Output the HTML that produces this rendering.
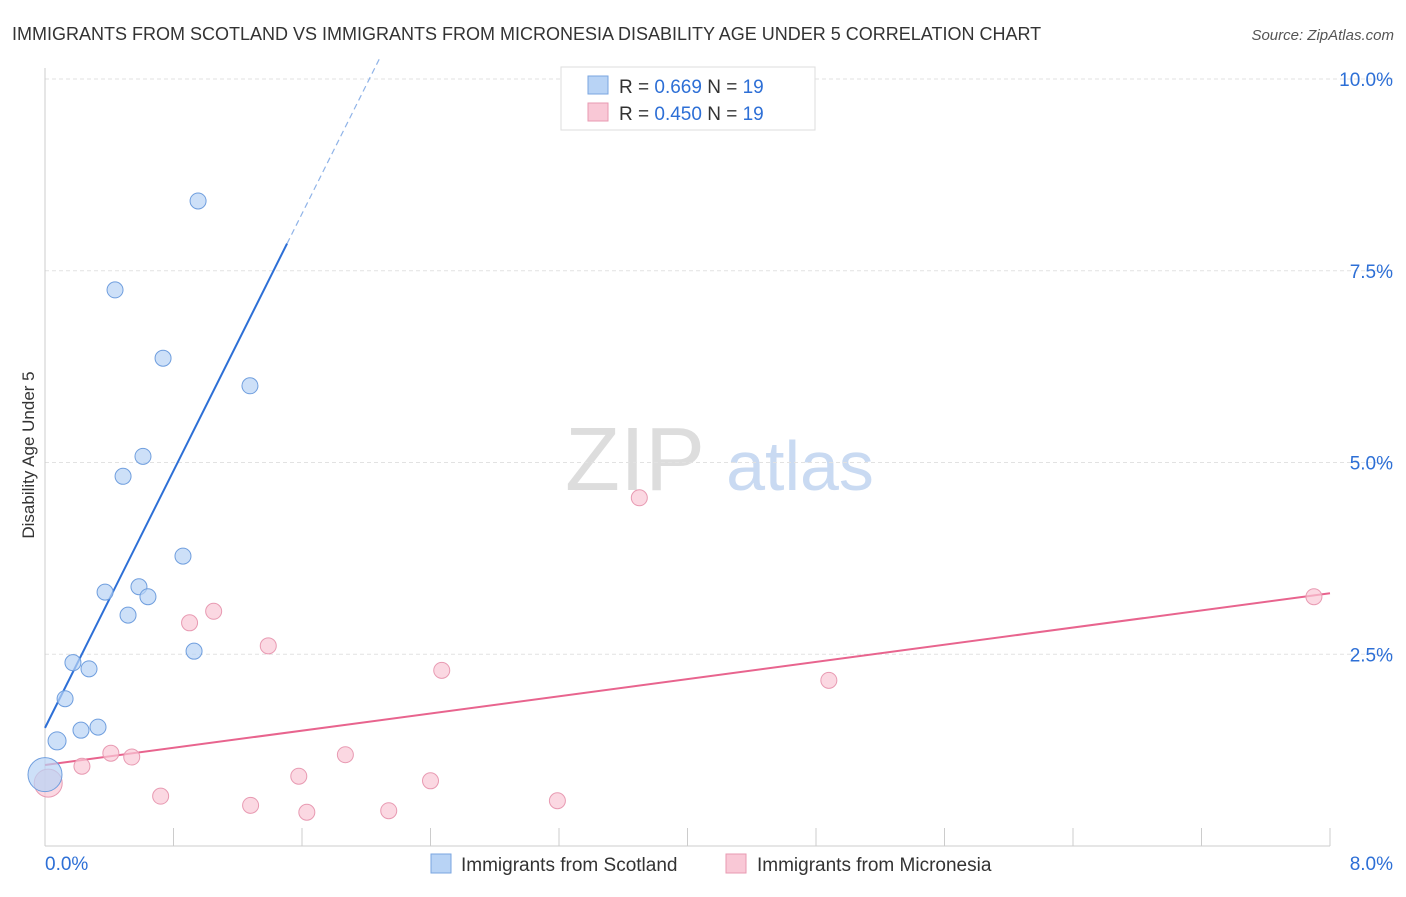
<!DOCTYPE html>
<html><head><meta charset="utf-8"><style>
body{margin:0;background:#fff;font-family:"Liberation Sans",sans-serif;}
svg text{font-family:"Liberation Sans",sans-serif;}
</style></head><body>
<svg id="c" width="1406" height="892" xmlns="http://www.w3.org/2000/svg">
<text x="12" y="40" font-size="18" fill="#333">IMMIGRANTS FROM SCOTLAND VS IMMIGRANTS FROM MICRONESIA DISABILITY AGE UNDER 5 CORRELATION CHART</text>
<text x="1394" y="40" font-size="15" fill="#555" font-style="italic" text-anchor="end">Source: ZipAtlas.com</text>
<text x="34" y="455" font-size="17" fill="#333" text-anchor="middle" transform="rotate(-90 34 455)">Disability Age Under 5</text>
<g>
<text x="635" y="490" font-size="90" fill="#ddd" text-anchor="middle" font-family="Liberation Serif">ZIP</text>
<text x="800" y="490" font-size="70" fill="#c9daf2" text-anchor="middle">atlas</text>
</g>
<g id="grid"></g><g id="axes"></g><g id="lines"></g><g id="pts"></g>
<g>
<rect x="561" y="67" width="254" height="63" fill="#fff" stroke="#ddd"/>
<rect x="588" y="76" width="20" height="18" fill="#b8d3f5" stroke="#7aa6e0"/>
<text x="619" y="93" font-size="19" fill="#333">R = <tspan fill="#2d6fd6">0.669</tspan>   N = <tspan fill="#2d6fd6">19</tspan></text>
<rect x="588" y="103" width="20" height="18" fill="#f9c8d6" stroke="#e89ab2"/>
<text x="619" y="120" font-size="19" fill="#333">R = <tspan fill="#2d6fd6">0.450</tspan>   N = <tspan fill="#2d6fd6">19</tspan></text>
</g>
<g>
<rect x="431" y="854" width="20" height="19" fill="#b8d3f5" stroke="#7aa6e0"/>
<text x="461" y="871" font-size="19" fill="#333">Immigrants from Scotland</text>
<rect x="726" y="854" width="20" height="19" fill="#f9c8d6" stroke="#e89ab2"/>
<text x="757" y="871" font-size="19" fill="#333">Immigrants from Micronesia</text>
</g>
</svg>
<script>
const yTicks=[2.5,5.0,7.5,10.0];
const yTickLabels=["2.5%","5.0%","7.5%","10.0%"];
const xTickCount=10;
const xLabels=["0.0%","8.0%"];
const blueX=[0.075,0.125,0.174,0.224,0.274,0.330,0.374,0.436,0.486,0.517,0.585,0.610,0.641,0.735,0.859,0.928,0.953,1.276,0.0];
const blueY=[1.37,1.92,2.39,1.51,2.31,1.55,3.31,7.25,4.82,3.01,3.38,5.08,3.25,6.36,3.78,2.54,8.41,6.00,0.93];
const blueR=[9,8,8,8,8,8,8,8,8,8,8,8,8,8,8,8,8,8,17];
const pinkX=[0.02,0.23,0.41,0.54,0.72,0.90,1.05,1.28,1.39,1.58,1.63,1.87,2.14,2.40,2.47,3.19,3.70,4.88,7.90];
const pinkY=[0.82,1.04,1.21,1.16,0.65,2.91,3.06,0.53,2.61,0.91,0.44,1.19,0.46,0.85,2.29,0.59,4.54,2.16,3.25];
const pinkR=[14,8,8,8,8,8,8,8,8,8,8,8,8,8,8,8,8,8,8];
const blueTrend=[1.54,4.19]; // intercept, slope
const pinkTrend=[1.056,0.28];
const sx=v=>45+v*160.625, sy=v=>846-v*76.7;
const NS="http://www.w3.org/2000/svg";
function mk(p,t,a){const e=document.createElementNS(NS,t);for(const k in a)e.setAttribute(k,a[k]);document.getElementById(p).appendChild(e);return e;}
yTicks.forEach((v,i)=>{
 const l=mk('grid','line',{x1:45,x2:1394,y1:sy(v),y2:sy(v),stroke:'#e2e2e2','stroke-dasharray':'4 3'});
 
 
 const t=mk('grid','text',{x:1393,y:sy(v)+7,'font-size':19,fill:'#2d6fd6','text-anchor':'end'});t.textContent=yTickLabels[i];
 
 
});
mk('axes','line',{x1:45,x2:45,y1:68,y2:846,stroke:'#ccc'});
mk('axes','line',{x1:45,x2:1330,y1:846,y2:846,stroke:'#ccc'});
for(let i=0;i<=xTickCount;i++){const x=sx(i*0.8);const l=mk('axes','line',{x1:x,x2:x,y1:828,y2:846,stroke:'#ccc'});
 
 }
let t=mk('axes','text',{x:45,y:870,'font-size':19,fill:'#2d6fd6'});t.textContent=xLabels[0];


t=mk('axes','text',{x:1393,y:870,'font-size':19,fill:'#2d6fd6','text-anchor':'end'});t.textContent=xLabels[1];


const bx1=1.507,bxe=(10.3-blueTrend[0])/blueTrend[1];
let l=mk('lines','line',{x1:sx(0),y1:sy(blueTrend[0]),x2:sx(bx1),y2:sy(blueTrend[0]+blueTrend[1]*bx1),stroke:'#2d6fd6','stroke-width':2});


l=mk('lines','line',{x1:sx(bx1),y1:sy(blueTrend[0]+blueTrend[1]*bx1),x2:sx(bxe),y2:sy(10.3),stroke:'#8fb3e8','stroke-width':1.2,'stroke-dasharray':'6 4'});


l=mk('lines','line',{x1:sx(0),y1:sy(pinkTrend[0]),x2:sx(8),y2:sy(pinkTrend[0]+pinkTrend[1]*8),stroke:'#e8648e','stroke-width':2});


pinkX.forEach((v,i)=>{const c=mk('pts','circle',{cx:sx(v),cy:sy(pinkY[i]),r:pinkR[i],fill:'#f9c8d6','fill-opacity':0.7,stroke:'#e89ab2'});
 
 });
blueX.forEach((v,i)=>{const c=mk('pts','circle',{cx:sx(v),cy:sy(blueY[i]),r:blueR[i],fill:'#b8d3f5','fill-opacity':0.7,stroke:'#6f9ede'});
 
 });
</script>
</body></html>
